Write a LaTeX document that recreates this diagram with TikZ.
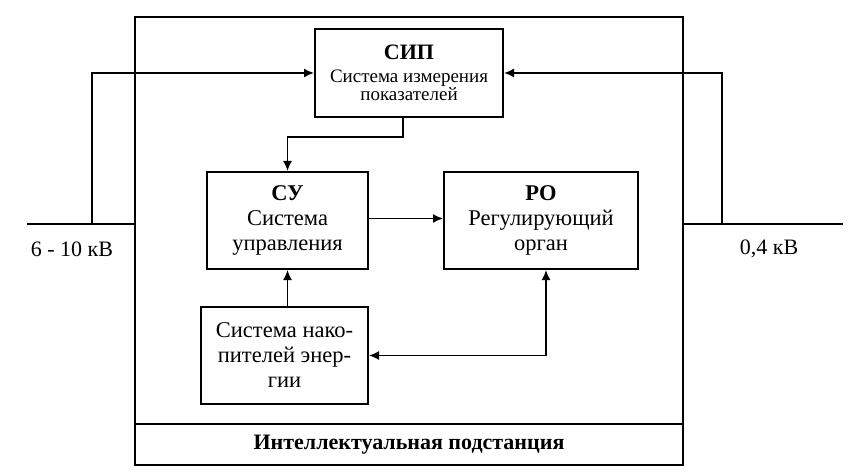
\documentclass[tikz,border=0pt]{standalone}
\usepackage{fontspec}
\setmainfont{Liberation Serif}
\usetikzlibrary{arrows.meta}

\begin{document}
\begin{tikzpicture}[x=1pt,y=-1pt,
  blok/.style={draw, line width=2pt, inner sep=0pt, align=center, font=\fontsize{22.5}{25}\selectfont},
  strel/.style={line width=1.6pt, -{Latex[length=10pt,width=9pt]}},
  dvestrel/.style={line width=1.6pt, {Latex[length=10pt,width=9pt]}-{Latex[length=10pt,width=9pt]}},
  shina/.style={line width=1.7pt},
  podpis/.style={font=\fontsize{22}{24}\selectfont}]
  \useasboundingbox (0,0) rectangle (851,473);

  % frame of the substation
  \node [draw, line width=2pt, minimum width=548pt, minimum height=448pt, inner sep=0pt] (ramka) at (409,241) {};
  \draw [line width=2pt] (ramka.west |- 0,424) -- (ramka.east |- 0,424);
  \node [font=\fontsize{22}{24}\selectfont\bfseries] (podst) at (409,445) {Интеллектуальная подстанция};

  % blocks
  \node [blok, minimum width=188pt, minimum height=88pt, font=\fontsize{19}{18}\selectfont] (sip) at (409,73)
    {{\fontsize{22}{22}\selectfont\bfseries СИП}\\[5pt] Система измерения\\ показателей};
  \node [blok, minimum width=161pt, minimum height=97pt] (su) at (287.5,220.5)
    {\textbf{СУ}\\ Система\\ управления};
  \node [blok, minimum width=194pt, minimum height=97pt] (ro) at (541,220.5)
    {\textbf{РО}\\ Регулирующий\\ орган};
  \node [blok, minimum width=167pt, minimum height=97pt] (nak) at (284.5,355.5)
    {Система нако-\\ пителей энер-\\ гии};

  % buses
  \coordinate (lshina) at (27,224);
  \coordinate (rshina) at (843,224);
  \coordinate (lotvod) at (92,224);
  \coordinate (rotvod) at (722,224);
  \draw [shina] (lshina) -- (lshina -| ramka.west);
  \draw [shina] (rshina) -- (rshina -| ramka.east);
  \node [podpis] (lnapr) at (72,249) {6 - 10 кВ};
  \node [podpis] (rnapr) at (769,249) {0,4 кВ};

  % connections
  \draw [strel] (lotvod) |- (sip.west);
  \draw [strel] (rotvod) |- (sip.east);
  \draw [strel] ([xshift=-6pt]sip.south) -- ++(0,19) -| (su.north);
  \draw [strel] ([yshift=2pt]su.east) -- ([yshift=2pt]ro.west);
  \draw [strel] (nak.north -| su.south) -- (su.south);
  \draw [dvestrel] (nak.east) -| ([xshift=5pt]ro.south);

\end{tikzpicture}
\end{document}
